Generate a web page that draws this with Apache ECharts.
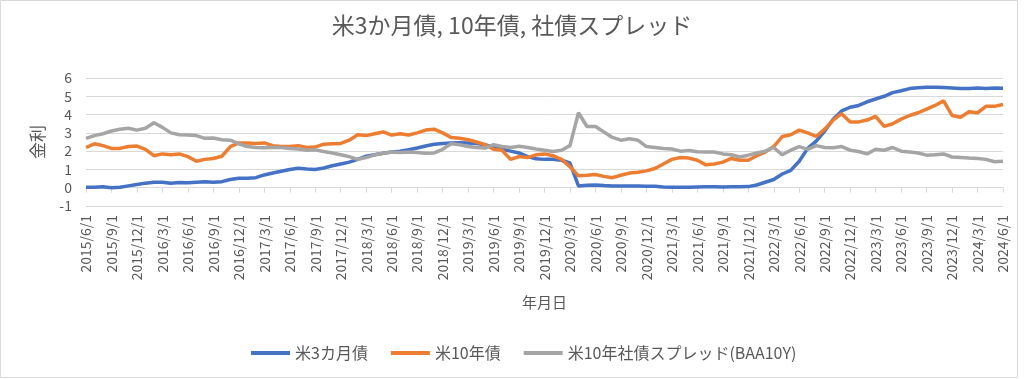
<!DOCTYPE html>
<html>
<head>
<meta charset="utf-8">
<script src="https://cdn.jsdelivr.net/npm/echarts@6/dist/echarts.min.js"></script>
<style>html,body{margin:0;padding:0;background:#fff}#c{width:1024px;height:379px}</style>
</head>
<body>
<div id="c"></div>
<script>
// Monthly categories 2015/6/1 .. 2024/6/1
const startYear = 2015, startMonth = 6, monthCount = 109;
const categories = [];
for (let i = 0; i < monthCount; i++) {
  const t = startMonth - 1 + i;
  categories.push((startYear + Math.floor(t / 12)) + '/' + (t % 12 + 1) + '/1');
}

const seriesNames = ['米3カ月債', '米10年債', '米10年社債スプレッド(BAA10Y)'];

const us3m = [
  0.02,0.03,0.05,0.00,0.02,0.10,0.18,
  0.25,0.30,0.30,0.24,0.28,0.27,0.30,0.32,0.30,0.33,0.45,0.52,
  0.52,0.55,0.70,0.80,0.90,1.00,1.07,1.02,1.00,1.08,1.20,1.30,
  1.40,1.55,1.72,1.80,1.88,1.95,2.00,2.08,2.17,2.28,2.38,2.42,
  2.45,2.46,2.45,2.42,2.35,2.20,2.10,2.00,1.90,1.70,1.58,1.55,
  1.55,1.50,1.35,0.10,0.14,0.15,0.12,0.10,0.10,0.09,0.09,0.08,
  0.08,0.04,0.03,0.02,0.02,0.04,0.05,0.05,0.04,0.05,0.05,0.06,
  0.15,0.30,0.45,0.75,0.95,1.45,2.15,2.55,3.10,3.75,4.20,4.40,
  4.50,4.70,4.85,5.00,5.20,5.30,5.42,5.47,5.50,5.50,5.48,5.45,
  5.42,5.42,5.45,5.43,5.45,5.44
];

const us10y = [
  2.20,2.40,2.30,2.15,2.15,2.25,2.28,
  2.10,1.75,1.85,1.80,1.85,1.70,1.45,1.55,1.60,1.72,2.25,2.45,
  2.45,2.42,2.45,2.30,2.25,2.25,2.30,2.20,2.22,2.38,2.40,2.42,
  2.60,2.90,2.85,2.95,3.05,2.88,2.95,2.88,3.00,3.15,3.20,3.00,
  2.75,2.70,2.62,2.50,2.35,2.10,2.05,1.55,1.70,1.65,1.80,1.85,
  1.75,1.55,1.15,0.65,0.68,0.72,0.62,0.55,0.68,0.80,0.85,0.92,
  1.05,1.30,1.55,1.65,1.62,1.50,1.25,1.30,1.40,1.60,1.50,1.50,
  1.75,1.95,2.25,2.80,2.90,3.15,3.00,2.80,3.20,3.70,4.05,3.60,
  3.60,3.70,3.90,3.35,3.50,3.75,3.95,4.10,4.30,4.50,4.75,3.95,
  3.85,4.15,4.10,4.45,4.45,4.55
];

const spread = [
  2.70,2.85,2.95,3.10,3.20,3.25,3.15,
  3.25,3.55,3.30,3.00,2.90,2.88,2.85,2.70,2.72,2.62,2.60,2.40,
  2.25,2.20,2.18,2.20,2.20,2.15,2.12,2.05,2.07,1.98,1.90,1.80,
  1.70,1.55,1.65,1.80,1.88,1.95,1.93,1.95,1.92,1.88,1.90,2.10,
  2.40,2.35,2.25,2.20,2.17,2.35,2.25,2.20,2.27,2.20,2.12,2.05,
  1.98,2.05,2.30,4.10,3.35,3.35,3.05,2.75,2.60,2.68,2.60,2.25,
  2.20,2.15,2.12,2.00,2.04,1.97,1.95,1.95,1.85,1.80,1.68,1.78,
  1.90,2.00,2.20,1.80,2.05,2.25,2.10,2.30,2.20,2.18,2.25,2.05,
  1.98,1.85,2.10,2.05,2.20,2.00,1.95,1.90,1.78,1.80,1.85,1.68,
  1.65,1.62,1.60,1.55,1.42,1.45
];

const colors = ['#4472C4', '#ED7D31', '#A5A5A5'];
const FONT = '"Noto Sans CJK JP", "Noto Sans", sans-serif';
const TXT = '#595959';

const chart = echarts.init(document.getElementById('c'), null, {renderer: 'canvas'});
chart.setOption({
  animation: false,
  color: colors,
  textStyle: {fontFamily: FONT},
  title: {
    text: '米3か月債, 10年債, 社債スプレッド',
    left: 'center', top: 9,
    textStyle: {fontSize: 23, fontWeight: 'normal', color: TXT, fontFamily: FONT}
  },
  graphic: [{
    type: 'rect', silent: true,
    shape: {x: 0.5, y: 0.5, width: 1017, height: 377},
    style: {fill: 'none', stroke: '#d9d9d9', lineWidth: 1}
  }],
  legend: {
    left: 246, top: 340,
    itemWidth: 39, itemHeight: 4, itemGap: 23,
    icon: 'rect',
    textStyle: {fontSize: 16, color: TXT, fontFamily: FONT},
    data: seriesNames
  },
  grid: {left: 86, right: 21, top: 78, bottom: 173, containLabel: false},
  xAxis: [{
    type: 'category', data: categories, boundaryGap: false, position: 'bottom',
    axisLine: {show: true, onZero: true, lineStyle: {color: '#d9d9d9', width: 1}},
    axisTick: {show: true, interval: 2, length: 5, lineStyle: {color: '#d9d9d9'}},
    axisLabel: {show: false},
    splitLine: {show: false}
  }, {
    type: 'category', data: categories, boundaryGap: false, position: 'bottom',
    axisLine: {show: false, onZero: false},
    axisTick: {show: false},
    axisLabel: {show: true, interval: 2, rotate: 90, margin: 9, fontSize: 14, color: TXT, fontFamily: FONT},
    splitLine: {show: false},
    name: '年月日', nameLocation: 'middle', nameGap: 89,
    nameTextStyle: {fontSize: 15, color: TXT, fontFamily: FONT}
  }],
  yAxis: {
    type: 'value', min: -1, max: 6, interval: 1,
    axisLine: {show: false}, axisTick: {show: false},
    axisLabel: {fontSize: 14, color: TXT, margin: 14, fontFamily: FONT},
    splitLine: {lineStyle: {color: '#d9d9d9', width: 1}},
    name: '金利', nameLocation: 'middle', nameRotate: 90, nameGap: 40,
    nameTextStyle: {fontSize: 17, color: TXT, fontFamily: FONT}
  },
  series: [
    {name: seriesNames[0], type: 'line', data: us3m, showSymbol: false, symbol: 'none', lineStyle: {width: 3.5}, xAxisIndex: 0},
    {name: seriesNames[1], type: 'line', data: us10y, showSymbol: false, symbol: 'none', lineStyle: {width: 3.5}, xAxisIndex: 0},
    {name: seriesNames[2], type: 'line', data: spread, showSymbol: false, symbol: 'none', lineStyle: {width: 3.5}, xAxisIndex: 0}
  ]
});
</script>
</body>
</html>
